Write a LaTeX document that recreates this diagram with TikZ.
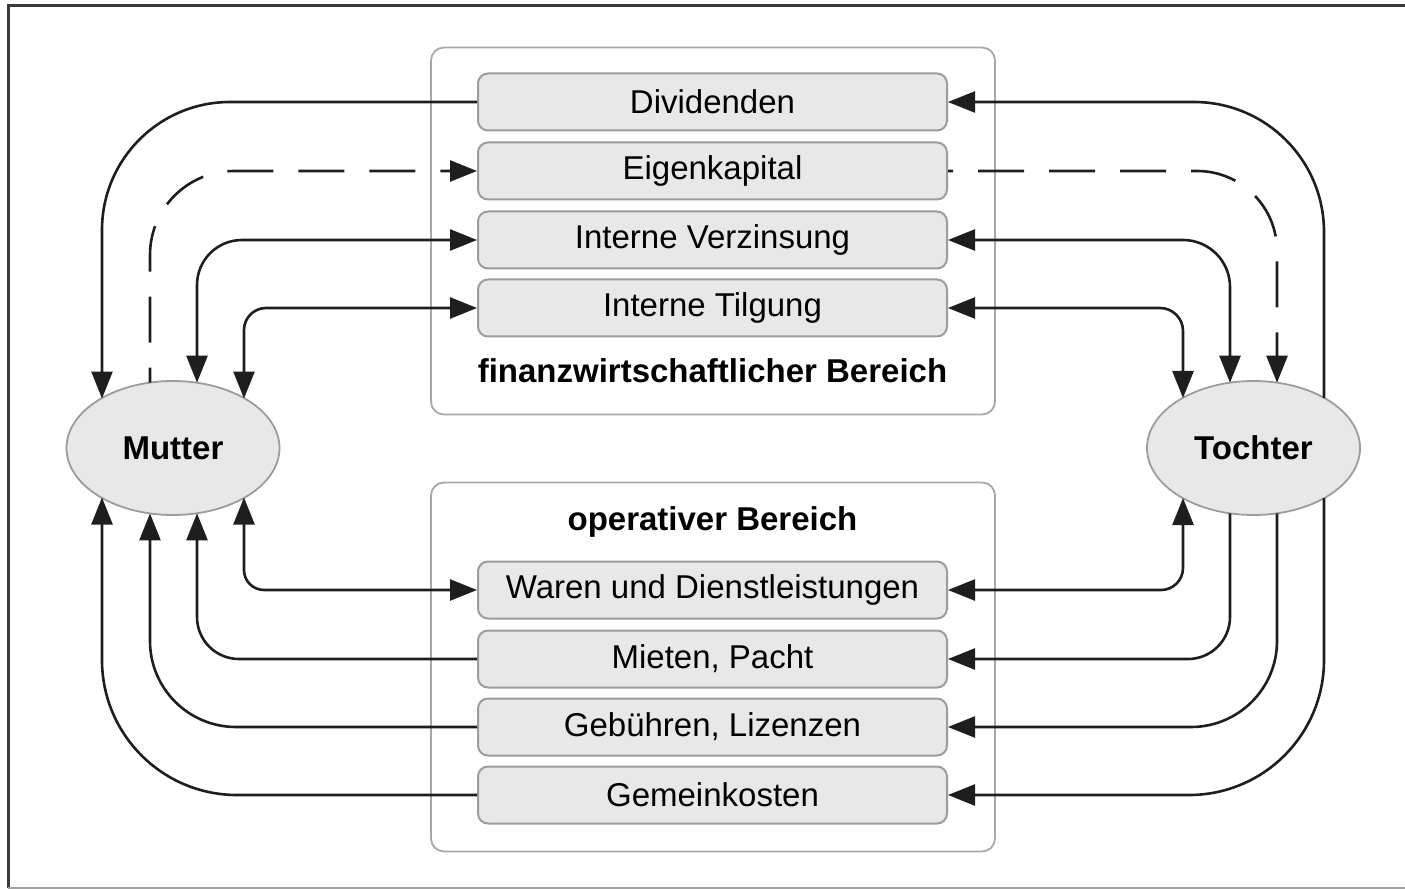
\documentclass[tikz,border=0pt]{standalone}
\usepackage{fontspec}
\setmainfont{Liberation Sans}
\usetikzlibrary{arrows.meta,shapes.geometric}

\definecolor{boxfill}{HTML}{E8E8E8}
\definecolor{boxline}{HTML}{9C9C9C}
\definecolor{groupline}{HTML}{A8A8A8}
\definecolor{flowcol}{HTML}{1E1E1E}
\definecolor{framedark}{HTML}{3A3A3A}
\definecolor{framelight}{HTML}{A0A0A0}

\tikzset{
  groupbox/.style={draw=groupline, line width=1.8pt, rounded corners=13pt,
    fill=white, minimum width=564pt, inner sep=0pt},
  itembox/.style={draw=boxline, line width=2pt, rounded corners=10pt,
    fill=boxfill, minimum width=469pt, minimum height=57pt, inner sep=0pt,
    font=\fontsize{33}{40}\selectfont},
  grouptitle/.style={font=\fontsize{33}{40}\selectfont\bfseries, inner sep=0pt},
  party/.style={ellipse, draw=boxline, line width=1.8pt, fill=boxfill,
    minimum width=213pt, minimum height=134pt, inner sep=0pt,
    font=\fontsize{33}{40}\selectfont\bfseries},
  flow/.style={draw=flowcol, line width=2.6pt,
    >={Triangle[length=27pt, width=21pt]}},
  longdash/.style={dash pattern=on 46pt off 25pt},
}

\begin{document}
\begin{tikzpicture}[x=1pt, y=-1pt]
\useasboundingbox (0,0) rectangle (1405,890);

% outer frame
\draw[framedark, line width=3pt] (1405,6) -- (8,6) -- (8,888);
\draw[framelight, line width=2pt] (8,888) -- (1405,888);

% the two areas
\node[groupbox, minimum height=367pt] (fin) at (713,231) {};
\node[groupbox, minimum height=369pt] (op)  at (713,667) {};
\node[grouptitle] (fintitle) at (712.5,371) {finanzwirtschaftlicher Bereich};
\node[grouptitle] (optitle)  at (712.5,522) {operativer Bereich};

% flow items
\node[itembox] (div) at (712.5,102) {Dividenden};
\node[itembox] (eig) at (712.5,171) {Eigenkapital};
\node[itembox] (ver) at (712.5,240) {Interne Verzinsung};
\node[itembox] (til) at (712.5,308) {Interne Tilgung};
\node[itembox] (war) at (712.5,590) {Waren und Dienstleistungen};
\node[itembox] (mie) at (712.5,659) {Mieten, Pacht};
\node[itembox] (geb) at (712.5,727) {Gebühren, Lizenzen};
\node[itembox] (gem) at (712.5,795) {Gemeinkosten};

% companies
\node[party] (mut) at (173,448) {Mutter};
\node[party] (toc) at (1253.5,448) {Tochter};

% docking points on the ellipse borders
\path (mut.center) ++(-71,-49.5) coordinate (m1t) ++(0,99) coordinate (m1b);
\path (mut.center) ++(-23,-65.4) coordinate (m2t) ++(0,130.8) coordinate (m2b);
\path (mut.center) ++(24,-65.3)  coordinate (m3t) ++(0,130.6) coordinate (m3b);
\path (mut.center) ++(71,-49.5)  coordinate (m4t) ++(0,99) coordinate (m4b);
\path (toc.center) ++(-70.5,-50) coordinate (t1t) ++(0,100) coordinate (t1b);
\path (toc.center) ++(-23.5,-65.3) coordinate (t2t) ++(0,130.6) coordinate (t2b);
\path (toc.center) ++(23.5,-65.3)  coordinate (t3t) ++(0,130.6) coordinate (t3b);
\path (toc.center) ++(70.5,-50)  coordinate (t4t) ++(0,100) coordinate (t4b);

% financial flows, Mutter side
\draw[flow, ->, rounded corners=128pt] (div.west) -| (m1t);
\draw[flow, ->, longdash, dash phase=31pt, rounded corners=84pt] (m2t) |- (eig.west);
\draw[flow, <->, rounded corners=45pt] (m3t) |- (ver.west);
\draw[flow, <->, rounded corners=22pt] (m4t) |- (til.west);

% financial flows, Tochter side
\draw[flow, ->, rounded corners=130pt] (t4t) |- (div.east);
\draw[flow, ->, longdash, dash phase=41pt, rounded corners=80pt] (eig.east) -| (t3t);
\draw[flow, <->, rounded corners=47pt] (ver.east) -| (t2t);
\draw[flow, <->, rounded corners=23pt] (til.east) -| (t1t);

% operative flows, Mutter side
\draw[flow, <->, rounded corners=20pt] (m4b) |- (war.west);
\draw[flow, <-, rounded corners=42pt] (m3b) |- (mie.west);
\draw[flow, <-, rounded corners=86pt] (m2b) |- (geb.west);
\draw[flow, <-, rounded corners=135pt] (m1b) |- (gem.west);

% operative flows, Tochter side
\draw[flow, <->, rounded corners=22pt] (war.east) -| (t1b);
\draw[flow, ->, rounded corners=42pt] (t2b) |- (mie.east);
\draw[flow, ->, rounded corners=86pt] (t3b) |- (geb.east);
\draw[flow, ->, rounded corners=135pt] (t4b) |- (gem.east);
\end{tikzpicture}
\end{document}
